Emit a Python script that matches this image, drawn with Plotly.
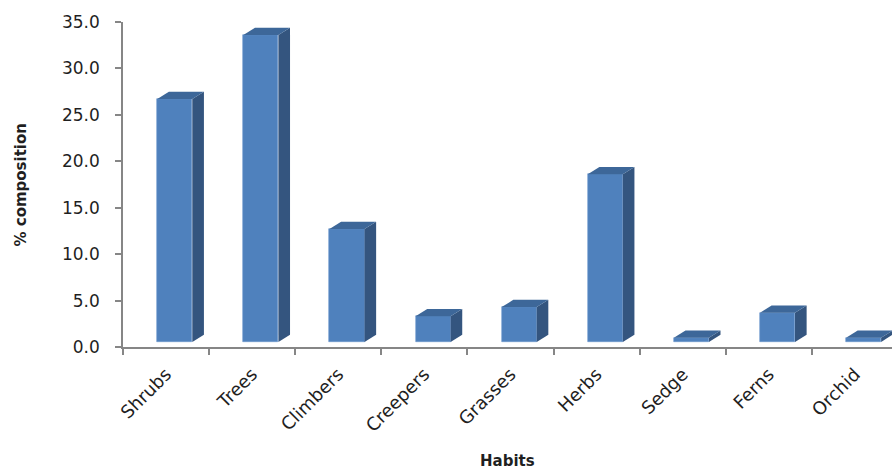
import plotly.graph_objects as go

categories = ["Shrubs", "Trees", "Climbers", "Creepers", "Grasses", "Herbs", "Sedge", "Ferns", "Orchid"]
values = [26.7, 33.6, 12.7, 3.3, 4.3, 18.6, 1.0, 3.7, 1.0]
y_ticks = [0, 5, 10, 15, 20, 25, 30, 35]
y_tick_labels = ["0.0", "5.0", "10.0", "15.0", "20.0", "25.0", "30.0", "35.0"]

# styling / 3D look constants
FRONT = "#4F81BD"
SIDE = "#34557F"
TOP = "#3D6799"
FLOOR = 0.55          # visual floor lift of the 3D bars (value units)
BAR_OFF = 0.398       # front face left offset inside a category slot
BAR_W = 0.407         # front face width (category units)
DX = 0.135            # depth offset, x (category units)
DY = 0.78             # depth offset, y (value units)

n = len(categories)
centers = [i + BAR_OFF + BAR_W / 2 for i in range(n)]

fig = go.Figure()
fig.add_trace(go.Bar(
    x=centers, y=[v - FLOOR for v in values], base=FLOOR, width=BAR_W,
    marker=dict(color=FRONT, line=dict(color="#6C97CC", width=0.6)),
    hovertext=categories, showlegend=False,
))

shapes = []
for i, v in enumerate(values):
    x0 = i + BAR_OFF
    x1 = x0 + BAR_W
    # side face
    shapes.append(dict(
        type="path", xref="x", yref="y", layer="above",
        path=f"M {x1},{FLOOR} L {x1 + DX},{FLOOR + DY} L {x1 + DX},{v + DY} L {x1},{v} Z",
        fillcolor=SIDE, line=dict(width=0),
    ))
    # top face
    shapes.append(dict(
        type="path", xref="x", yref="y", layer="above",
        path=f"M {x0},{v} L {x0 + DX},{v + DY} L {x1 + DX},{v + DY} L {x1},{v} Z",
        fillcolor=TOP, line=dict(width=0),
    ))

fig.update_layout(
    width=892, height=473,
    margin=dict(l=123, r=0, t=22, b=126),
    plot_bgcolor="white", paper_bgcolor="white",
    font=dict(family="DejaVu Sans", color="#1f1f1f"),
    bargap=0,
    shapes=shapes,
    xaxis=dict(
        range=[0, 769 / 86.1],
        tickvals=[i + 0.5 for i in range(n)], ticktext=categories,
        tickangle=-45, ticks="", ticklabelstandoff=8,
        tickfont=dict(size=18, family="DejaVu Sans"),
        showline=True, linecolor="#868686", linewidth=1.5,
        showgrid=False, zeroline=False,
        minor=dict(tickvals=list(range(n + 1)), ticks="outside", ticklen=6,
                   tickcolor="#868686", tickwidth=1.5, showgrid=False),
    ),
    yaxis=dict(
        range=[0, 35], tickvals=y_ticks, ticktext=y_tick_labels,
        ticks="outside", ticklen=6, tickcolor="#868686", tickwidth=1.5,
        ticklabelstandoff=12,
        tickfont=dict(size=17, family="DejaVu Sans"),
        showline=True, linecolor="#868686", linewidth=1.5,
        showgrid=False, zeroline=False,
    ),
    annotations=[
        dict(text="<b>Habits</b>", xref="paper", yref="paper", x=0.5, y=0,
             yshift=-114, xanchor="center", yanchor="middle", showarrow=False,
             font=dict(size=15, family="DejaVu Sans")),
        dict(text="<b>% composition</b>", xref="paper", yref="paper", x=0, y=0.5,
             xshift=-103, textangle=-90, xanchor="center", yanchor="middle",
             showarrow=False, font=dict(size=15, family="DejaVu Sans")),
    ],
)

fig.write_html("out.html")
